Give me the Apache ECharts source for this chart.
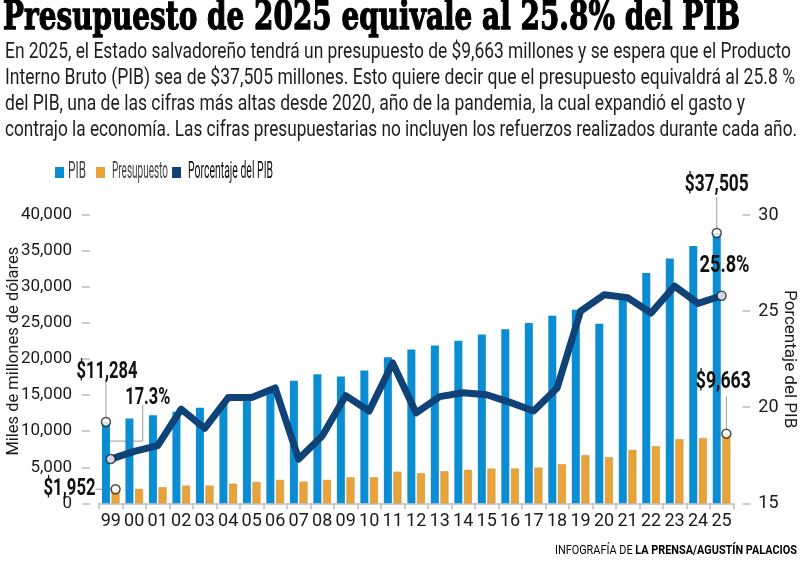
<!DOCTYPE html>
<html><head><meta charset="utf-8">
<script src="https://cdn.jsdelivr.net/npm/echarts/dist/echarts.min.js"></script>
<style>html,body{margin:0;padding:0;background:#fff}#c{width:800px;height:562px}</style>
</head><body><div id="c"></div>
<script>
// ---- data ----
const years = ['99','00','01','02','03','04','05','06','07','08','09','10','11','12','13','14','15','16','17','18','19','20','21','22','23','24','25'];
const pib = [11284,11750,12220,12700,13250,13900,14600,15700,16990,17920,17590,18420,20280,21340,21900,22540,23420,24160,25000,26010,26850,24900,28500,31940,33970,35690,37505];
const presupuesto = [1952,1990,2220,2450,2450,2720,2960,3240,3000,3240,3610,3610,4390,4160,4440,4630,4810,4810,4950,5410,6660,6390,7400,7910,8890,9030,9663];
const porcentaje = [17.3,17.7,18.0,19.9,18.9,20.5,20.5,21.0,17.3,18.5,20.6,19.8,22.3,19.7,20.55,20.75,20.65,20.25,19.8,21.0,25.0,25.85,25.7,24.9,26.3,25.4,25.8];
const leftAxis = {min: 0, max: 40000, interval: 5000};
const rightAxis = {min: 15, max: 30, interval: 5};
const titleText = 'Presupuesto de 2025 equivale al 25.8% del PIB';
const subtitleLines = [
  'En 2025, el Estado salvadoreño tendrá un presupuesto de $9,663 millones y se espera que el Producto',
  'Interno Bruto (PIB) sea de $37,505 millones. Esto quiere decir que el presupuesto equivaldrá al 25.8 %',
  'del PIB, una de las cifras más altas desde 2020, año de la pandemia, la cual expandió el gasto y',
  'contrajo la economía. Las cifras presupuestarias no incluyen los refuerzos realizados durante cada año.'
];
const seriesNames = ['PIB', 'Presupuesto', 'Porcentaje del PIB'];
const leftName = 'Miles de millones de dólares';
const rightName = 'Porcentaje del PIB';
const creditLight = 'INFOGRAFÍA DE ';
const creditBold = 'LA PRENSA/AGUSTÍN PALACIOS';

// ---- styles ----
const BLUE = '#0a8dd3', ORANGE = '#e8a33a', NAVY = '#0f4277';
const FONT = 'Roboto';
const cv = document.createElement('canvas').getContext('2d');
function mw(text, size, family, weight) { cv.font = (weight || 'normal') + ' ' + size + 'px ' + family; return cv.measureText(text).width; }

function fitText(text, x, y, targetW, o) {
  const fam = o.family || FONT;
  const w = mw(text, o.size, fam.indexOf(' ') > 0 ? '"' + fam + '"' : fam, o.weight);
  const style = { text: text, fontSize: o.size, fontFamily: fam, fontWeight: o.weight || 'normal',
      fill: o.color || '#1a1a1a', align: o.align || 'left', verticalAlign: o.va || 'middle' };
  if (o.stroke) { style.stroke = o.color; style.lineWidth = o.stroke; }
  return { type: 'text', x: x, y: y, scaleX: targetW / w, z: 100, style: style };
}

const chart = echarts.init(document.getElementById('c'), null, {renderer: 'canvas'});
const BARW = 8, GAP = 1.6;

const option = {
  animation: false,
  backgroundColor: '#fff',
  grid: {left: 99, right: 66.7, top: 215, bottom: 58.7, containLabel: false, outerBoundsMode: 'none'},
  xAxis: {
    type: 'category', data: years, boundaryGap: true,
    axisLine: {lineStyle: {color: '#bdbdbd', width: 1.5}},
    axisTick: {show: true, length: 6, interval: 0, lineStyle: {color: '#bdbdbd', width: 1.5}},
    axisLabel: {interval: 0, margin: 9, fontFamily: FONT, fontSize: 18, color: '#1a1a1a'}
  },
  yAxis: [{
    type: 'value', min: leftAxis.min, max: leftAxis.max, interval: leftAxis.interval, offset: 9,
    splitLine: {show: false}, axisLine: {show: false},
    axisTick: {show: true, length: 8, lineStyle: {color: '#bdbdbd', width: 1.5}},
    axisLabel: {margin: 18, fontFamily: FONT, fontSize: 17, color: '#1a1a1a',
      formatter: v => v.toLocaleString('en-US')},
    name: leftName, nameLocation: 'middle', nameRotate: 90, nameGap: 68, nameMoveOverlap: false,
    nameTextStyle: {fontFamily: FONT, fontSize: 16.5, color: '#1a1a1a', padding: [0, 0, 0, 16]}
  }, {
    type: 'value', position: 'right', min: rightAxis.min, max: rightAxis.max, interval: rightAxis.interval, offset: 9,
    splitLine: {show: false}, axisLine: {show: false},
    axisTick: {show: true, length: 8, lineStyle: {color: '#bdbdbd', width: 1.5}},
    axisLabel: {margin: 16, fontFamily: FONT, fontSize: 18, color: '#1a1a1a'},
    name: rightName, nameLocation: 'middle', nameRotate: -90, nameGap: 38, nameMoveOverlap: false,
    nameTextStyle: {fontFamily: FONT, fontSize: 17, color: '#1a1a1a'}
  }],
  series: [
    {name: seriesNames[0], type: 'bar', data: pib, barWidth: BARW, barGap: '20%', itemStyle: {color: BLUE}, z: 2},
    {name: seriesNames[1], type: 'bar', data: presupuesto, barWidth: BARW, barGap: '20%', itemStyle: {color: ORANGE, borderColor: '#c98a2a', borderWidth: 0.5}, z: 2},
    {name: seriesNames[2], type: 'line', yAxisIndex: 1, data: porcentaje, symbol: 'none', z: 5,
      lineStyle: {color: NAVY, width: 7, join: 'round', cap: 'round'}, itemStyle: {color: NAVY}},
    {type: 'scatter', data: [[years[0], pib[0]], [years[26], pib[26]]], symbolSize: 9, symbolOffset: [-(BARW + GAP) / 2, 0], z: 10,
      itemStyle: {color: '#fff', borderColor: '#222', borderWidth: 1.5}},
    {type: 'scatter', data: [[years[0], presupuesto[0]], [years[26], presupuesto[26]]], symbolSize: 9, symbolOffset: [(BARW + GAP) / 2, 0], z: 10,
      itemStyle: {color: '#fff', borderColor: '#222', borderWidth: 1.5}},
    {type: 'scatter', yAxisIndex: 1, data: [[years[0], porcentaje[0]], [years[26], porcentaje[26]]], symbolSize: 9, z: 10,
      itemStyle: {color: '#fff', borderColor: '#222', borderWidth: 1.5}}
  ]
};
chart.setOption(option);

// ---- annotations anchored on data ----
const P = (cat, v, axis) => chart.convertToPixel({xAxisIndex: 0, yAxisIndex: axis || 0}, [cat, v]);
const off = (BARW + GAP) / 2;
const a1 = P(years[0], pib[0]); a1[0] -= off;
const a2 = P(years[0], porcentaje[0], 1);
const a3 = P(years[0], presupuesto[0]); a3[0] += off;
const b1 = P(years[26], pib[26]); b1[0] -= off;
const b2 = P(years[26], porcentaje[26], 1);
const b3 = P(years[26], presupuesto[26]); b3[0] += off;
const fmt = v => '$' + v.toLocaleString('en-US');
const LS = {stroke: '#9a9a9a', lineWidth: 1};
const lbl = (t, x, y, w, align) => fitText(t, x, y, w, {size: 23, weight: 'bold', color: '#111', align: align || 'center'});

const graphics = [];
graphics.push(fitText(titleText, 3, 19, 737, {size: 39, weight: 'bold', family: 'DejaVu Serif', color: '#000', stroke: 1.3}));
const subW = [786, 790, 740, 792];
const subY = [52, 78, 104, 130];
subtitleLines.forEach((t, i) => graphics.push(fitText(t, 5, subY[i], subW[i], {size: 22, color: '#1e1e1e'})));

// legend (drawn)
const legColors = [BLUE, ORANGE, NAVY];
const legRectX = [55, 96, 172];
const legTextX = [68, 112, 188];
const legTextW = [18, 56, 85];
const legTextC = ['#444', '#444', '#111'];
seriesNames.forEach((n, i) => {
  graphics.push({type: 'rect', z: 100, shape: {x: legRectX[i], y: 167, width: 9, height: 11}, style: {fill: legColors[i]}});
  graphics.push(fitText(n, legTextX[i], 172.5, legTextW[i], {size: 23, color: legTextC[i]}));
});

// leader lines
graphics.push({type: 'line', z: 1, shape: {x1: a1[0], y1: a1[1] - 4, x2: a1[0], y2: a1[1] - 44}, style: LS});
graphics.push({type: 'polyline', z: 1, shape: {points: [[a2[0] - 5, a2[1] - 18], [a2[0] + 32, a2[1] - 18], [a2[0] + 32, a2[1] - 54]]}, style: LS});
graphics.push({type: 'line', z: 1, shape: {x1: a3[0] - 4, y1: a3[1], x2: a3[0] - 20, y2: a3[1]}, style: LS});
graphics.push({type: 'line', z: 1, shape: {x1: b1[0], y1: b1[1] - 4, x2: b1[0], y2: b1[1] - 36}, style: LS});
graphics.push({type: 'line', z: 1, shape: {x1: b3[0], y1: b3[1] - 4, x2: b3[0], y2: b3[1] - 37}, style: LS});
// labels
graphics.push(lbl(fmt(pib[0]), a1[0] + 1, a1[1] - 50, 61));
graphics.push(lbl(porcentaje[0] + '%', a2[0] + 37, a2[1] - 61, 45));
graphics.push(lbl(fmt(presupuesto[0]), a3[0] - 20, a3[1], 52, 'right'));
graphics.push(lbl(fmt(pib[26]), b1[0], b1[1] - 48, 64));
graphics.push(lbl(porcentaje[26] + '%', b2[0] + 3, b2[1] - 29, 50));
graphics.push(lbl(fmt(presupuesto[26]), b3[0] - 3, b3[1] - 51, 55));

// credit
const cs = 13;
const wl = mw(creditLight, cs, FONT), wb = mw(creditBold, cs, FONT, 'bold');
graphics.push({type: 'text', x: 797, y: 551, scaleX: 242 / (wl + wb), z: 100,
  style: {text: '{a|' + creditLight + '}{b|' + creditBold + '}', align: 'right', verticalAlign: 'middle',
    rich: {a: {fontSize: cs, fontFamily: FONT, color: '#555'}, b: {fontSize: cs, fontFamily: FONT, fontWeight: 'bold', color: '#000'}}}});

chart.setOption({graphic: {elements: graphics}});
</script></body></html>
